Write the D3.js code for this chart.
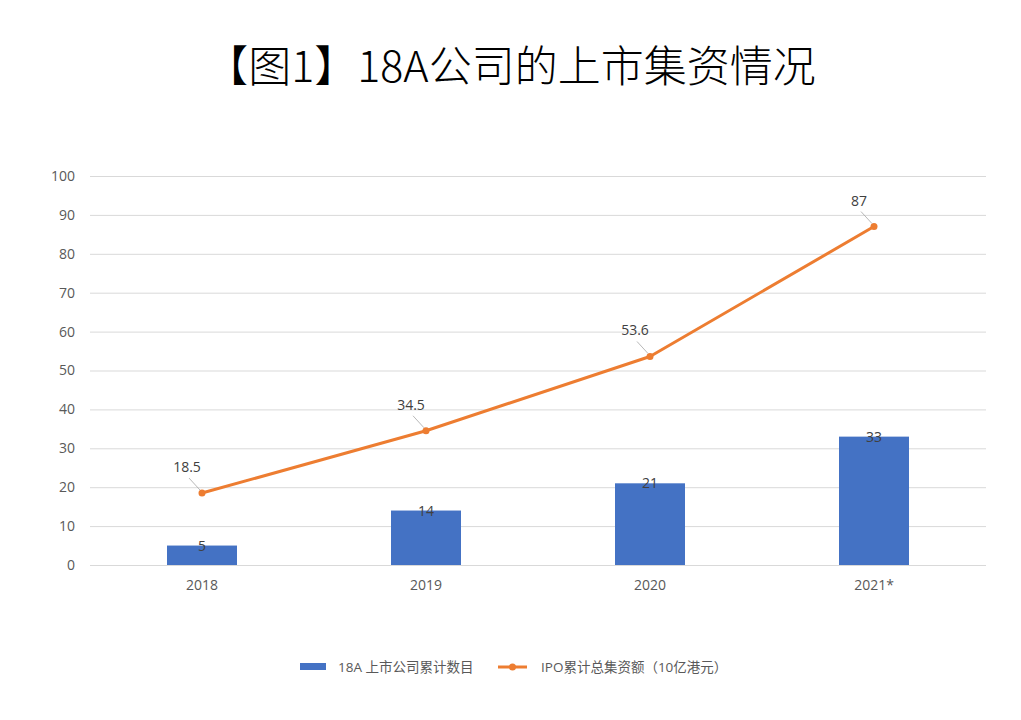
<!DOCTYPE html>
<html>
<head>
<meta charset="utf-8">
<script src="https://cdn.jsdelivr.net/npm/d3@7"></script>
<style>
  body { margin: 0; background: #fff; }
  svg { display: block; font-family: "Open Sans", "Noto Sans CJK SC", sans-serif; }
</style>
</head>
<body>
<div id="chart"></div>
<script>
// data
var categories = ["2018", "2019", "2020", "2021*"];
var companies = [5, 14, 21, 33];          // 18A 上市公司累计数目
var funds = [18.5, 34.5, 53.6, 87];       // IPO累计总集资额（10亿港元）
var yTicks = [0, 10, 20, 30, 40, 50, 60, 70, 80, 90, 100];

var barName = "18A 上市公司累计数目";
var lineName = "IPO累计总集资额（10亿港元）";

var width = 1021, height = 720;
var margin = {top: 176, right: 35, bottom: 155, left: 90};

var barColor = "#4472C4", lineColor = "#ED7D31";

var svg = d3.select("#chart").append("svg")
    .attr("width", width)
    .attr("height", height);

svg.append("text")
    .attr("x", width / 2)
    .attr("y", 82)
    .attr("text-anchor", "middle")
    .attr("font-family", "'Noto Sans CJK SC', sans-serif")
    .attr("font-size", 43)
    .attr("font-weight", 300)
    .attr("fill", "#000")
    .text("【图1】18A公司的上市集资情况");

var x = d3.scaleBand()
    .domain(categories)
    .range([margin.left, width - margin.right]);

var y = d3.scaleLinear()
    .domain([0, 100])
    .range([height - margin.bottom, margin.top]);

// gridlines
svg.append("g")
    .selectAll("line")
    .data(yTicks)
    .join("line")
      .attr("x1", margin.left)
      .attr("x2", width - margin.right)
      .attr("y1", d => y(d) + 0.5)
      .attr("y2", d => y(d) + 0.5)
      .attr("stroke", "#d9d9d9");

// y axis labels
svg.append("g")
    .attr("font-size", 14)
    .attr("fill", "#595959")
    .attr("text-anchor", "end")
  .selectAll("text")
  .data(yTicks)
  .join("text")
    .attr("x", 75)
    .attr("y", d => y(d))
    .attr("dy", "0.35em")
    .text(d => d);

// x axis labels
svg.append("g")
    .attr("font-size", 14)
    .attr("fill", "#595959")
    .attr("text-anchor", "middle")
  .selectAll("text")
  .data(categories)
  .join("text")
    .attr("x", d => x(d) + x.bandwidth() / 2)
    .attr("y", y(0) + 25)
    .text(d => d);

// bars
var barW = 70;
svg.append("g")
  .selectAll("rect")
  .data(companies)
  .join("rect")
    .attr("x", (d, i) => x(categories[i]) + x.bandwidth() / 2 - barW / 2)
    .attr("y", d => y(d))
    .attr("width", barW)
    .attr("height", d => y(0) - y(d))
    .attr("fill", barColor);

svg.append("g")
    .attr("font-size", 14)
    .attr("fill", "#404040")
    .attr("text-anchor", "middle")
  .selectAll("text")
  .data(companies)
  .join("text")
    .attr("x", (d, i) => x(categories[i]) + x.bandwidth() / 2)
    .attr("y", d => y(d) + 5)
    .text(d => d);

// line
var cx = (d, i) => x(categories[i]) + x.bandwidth() / 2;
var line = d3.line()
    .x(cx)
    .y(d => y(d));

svg.append("path")
    .datum(funds)
    .attr("d", line)
    .attr("fill", "none")
    .attr("stroke", lineColor)
    .attr("stroke-width", 3)
    .attr("stroke-linejoin", "round");

svg.append("g")
  .selectAll("circle")
  .data(funds)
  .join("circle")
    .attr("cx", cx)
    .attr("cy", d => y(d))
    .attr("r", 3.5)
    .attr("fill", lineColor);

// line labels with leader lines
var lx = -15, ly = -21;
var lab = svg.append("g").selectAll("g")
  .data(funds)
  .join("g");

lab.append("line")
    .attr("x1", (d, i) => cx(d, i) + lx + 2)
    .attr("y1", d => y(d) + ly + 6)
    .attr("x2", (d, i) => cx(d, i) - 2)
    .attr("y2", d => y(d) - 3)
    .attr("stroke", "#a6a6a6")
    .attr("stroke-width", 0.8);

lab.append("text")
    .attr("x", (d, i) => cx(d, i) + lx)
    .attr("y", d => y(d) + ly)
    .attr("font-size", 14)
    .attr("fill", "#404040")
    .attr("text-anchor", "middle")
    .text(d => d);

// legend
var leg = svg.append("g").attr("font-size", 13.5).attr("fill", "#595959");
leg.append("rect")
    .attr("x", 300).attr("y", 663)
    .attr("width", 26).attr("height", 7)
    .attr("fill", barColor);
leg.append("text")
    .attr("x", 338).attr("y", 667).attr("dy", "0.35em")
    .text(barName);
leg.append("line")
    .attr("x1", 498).attr("x2", 527)
    .attr("y1", 667).attr("y2", 667)
    .attr("stroke", lineColor).attr("stroke-width", 3);
leg.append("circle")
    .attr("cx", 512.5).attr("cy", 667).attr("r", 3.5)
    .attr("fill", lineColor);
leg.append("text")
    .attr("x", 541).attr("y", 667).attr("dy", "0.35em")
    .text(lineName);
</script>
</body>
</html>
